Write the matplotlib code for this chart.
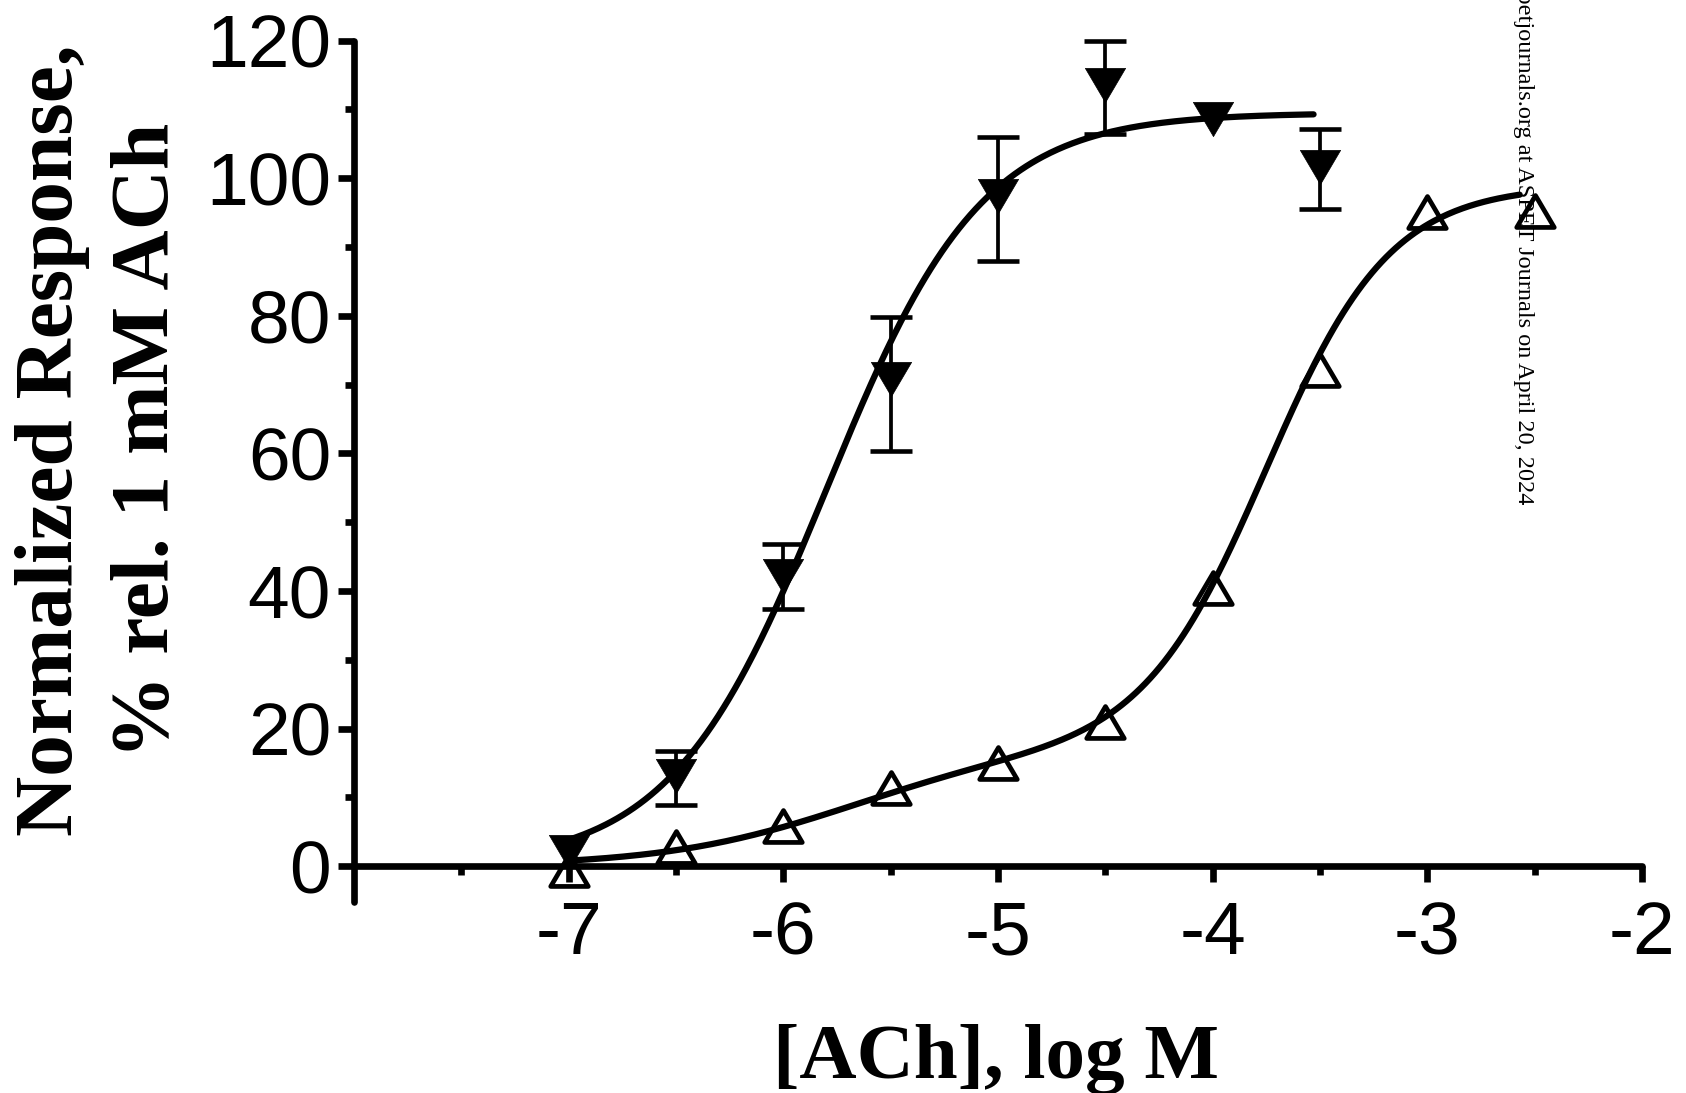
import numpy as np
import matplotlib
matplotlib.use("Agg")
import matplotlib.pyplot as plt
from matplotlib.path import Path

plt.rcParams['axes.unicode_minus'] = False

# ---------------- data ----------------
log_ach = [-7, -6.5, -6, -5.5, -5, -4.5, -4, -3.5]
resp_filled = [2, 13.1, 42.2, 70.8, 97.4, 113.5, 108.6, 101.7]
err_low_filled = [0, 4.2, 4.8, 10.4, 9.4, 7.1, 0, 6.2]
err_high_filled = [0, 3.6, 4.7, 9.1, 8.6, 6.5, 0, 5.4]

log_ach_open = [-7, -6.5, -6, -5.5, -5, -4.5, -4, -3.5, -3, -2.5]
resp_open = [-0.5, 2.8, 5.9, 11.3, 15.0, 20.9, 40.5, 72.1, 95.1, 95.2]

# fitted curve parameters
fit1_top, fit1_logec50, fit1_hill = 109.5, -5.80, 1.2
fit1_range = (-7.0, -3.53)
fit2_amp1, fit2_logec1, fit2_hill1 = 17.0, -5.7, 1.0
fit2_amp2, fit2_logec2, fit2_hill2 = 82.0, -3.75, 1.5
fit2_range = (-7.0, -2.57)

xticks = [-7, -6, -5, -4, -3, -2]
yticks = [0, 20, 40, 60, 80, 100, 120]


def hill(x, top, logec, n):
    return top / (1 + 10 ** ((logec - x) * n))


W, H = 1686, 1093
fig = plt.figure(figsize=(W / 100, H / 100), dpi=100)
ax = fig.add_axes([354 / W, 1 - 902 / H, (1642 - 354) / W, (902 - 40.7) / H])
ax.set_xlim(-8, -2)
ax.set_ylim(-5.2, 120)

lw = 4.5
# curves
xc1 = np.linspace(*fit1_range, 400)
ax.plot(xc1, hill(xc1, fit1_top, fit1_logec50, fit1_hill), color='black',
        lw=lw, solid_capstyle='round', zorder=3)
xc2 = np.linspace(*fit2_range, 400)
yc2 = hill(xc2, fit2_amp1, fit2_logec1, fit2_hill1) + hill(xc2, fit2_amp2, fit2_logec2, fit2_hill2)
ax.plot(xc2, yc2, color='black', lw=lw, solid_capstyle='round', zorder=3)

# error bars (only where an error was shown)
idx = [i for i in range(len(log_ach)) if err_low_filled[i] > 0 or err_high_filled[i] > 0]
ax.errorbar([log_ach[i] for i in idx], [resp_filled[i] for i in idx],
            yerr=[[err_low_filled[i] for i in idx], [err_high_filled[i] for i in idx]],
            fmt='none', ecolor='black', elinewidth=2.7, capsize=15, capthick=3.3,
            zorder=2, clip_on=False)

a = 0.85
down_tri = Path([(-1, a), (1, a), (0, -a), (-1, a)],
                [Path.MOVETO, Path.LINETO, Path.LINETO, Path.CLOSEPOLY])
up_tri = Path([(-1, -a), (1, -a), (0, a), (-1, -a)],
              [Path.MOVETO, Path.LINETO, Path.LINETO, Path.CLOSEPOLY])

ax.plot(log_ach, resp_filled, linestyle='none', marker=down_tri, markersize=29,
        markerfacecolor='black', markeredgecolor='black', markeredgewidth=0.5,
        zorder=4, clip_on=False)
ax.plot(log_ach_open, resp_open, linestyle='none', marker=up_tri, markersize=27,
        markerfacecolor='none', markeredgecolor='black', markeredgewidth=3.4,
        zorder=5, clip_on=False)

# axes styling
for s in ['top', 'right']:
    ax.spines[s].set_visible(False)
ax.spines['bottom'].set_position(('data', 0))
for s in ['left', 'bottom']:
    ax.spines[s].set_linewidth(4.8)
    ax.spines[s].set_capstyle('round')
    ax.spines[s].set_zorder(3)

ax.set_xticks(xticks)
ax.set_xticklabels([str(t) for t in xticks])
ax.set_xticks(np.arange(-7.5, -2, 1.0), minor=True)
ax.set_yticks(yticks)
ax.set_yticklabels([str(t) for t in yticks])
ax.set_yticks(np.arange(10, 120, 20), minor=True)

ax.tick_params(axis='both', which='major', width=4.8, length=11.5, direction='out', color='black')
ax.tick_params(axis='both', which='minor', width=4.8, length=6.5, direction='out', color='black')
ax.tick_params(axis='x', which='major', pad=13)
ax.tick_params(axis='y', which='major', pad=5)
for lab in ax.get_xticklabels() + ax.get_yticklabels():
    lab.set_fontfamily('Liberation Sans')
    lab.set_fontsize(54)

# axis labels
serif = 'Liberation Serif'
fig.text(996.5 / W, 1 - 1078 / H, '[ACh], log M', fontfamily=serif, fontweight='bold',
         fontsize=57, ha='center', va='baseline')
fig.text(72 / W, 1 - 440 / H, 'Normalized Response,', fontfamily=serif, fontweight='bold',
         fontsize=60, rotation=90, rotation_mode='anchor', ha='center', va='baseline')
fig.text(168 / W, 1 - 440 / H, '% rel. 1 mM ACh', fontfamily=serif, fontweight='bold',
         fontsize=60, rotation=90, rotation_mode='anchor', ha='center', va='baseline')

# watermark
fig.text(1518 / W, 1 - 504 / H,
         'Downloaded from jpet.aspetjournals.org at ASPET Journals on April 20, 2024',
         fontfamily=serif, fontsize=17.5, rotation=270, rotation_mode='anchor',
         ha='right', va='baseline', color='black', zorder=10)

fig.savefig('out.png', dpi=100)
